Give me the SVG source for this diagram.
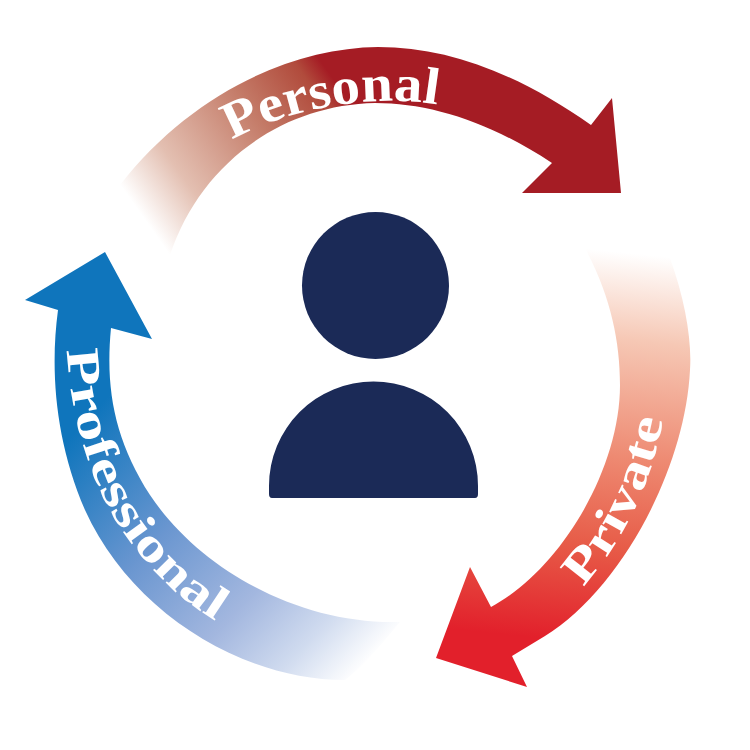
<svg xmlns="http://www.w3.org/2000/svg" width="750" height="750" viewBox="0 0 750 750">
<style>
.label{font-family:"Liberation Serif","DejaVu Serif",serif;font-weight:700;fill:#fff}
.ink{fill:#1b2a57}
</style>
<defs>
<linearGradient id="gTop" gradientUnits="userSpaceOnUse" x1="145" y1="220" x2="343" y2="80">
<stop offset="0" stop-color="#fff"/><stop offset="0.23" stop-color="#e3bfb1"/><stop offset="0.62" stop-color="#c47b68"/><stop offset="0.88" stop-color="#b14b3c"/><stop offset="0.97" stop-color="#a51c24"/>
</linearGradient>
<linearGradient id="gRight" gradientUnits="userSpaceOnUse" x1="600" y1="250" x2="560" y2="640">
<stop offset="0" stop-color="#fff"/><stop offset="0.22" stop-color="#f6c8b5"/><stop offset="0.52" stop-color="#ee8a72"/><stop offset="0.75" stop-color="#e75c48"/><stop offset="1" stop-color="#e2202b"/>
</linearGradient>
<linearGradient id="gLeft" gradientUnits="userSpaceOnUse" x1="105" y1="400" x2="375" y2="655">
<stop offset="0" stop-color="#0f75bc"/><stop offset="0.36" stop-color="#6a96d0"/><stop offset="0.65" stop-color="#a3b7df"/><stop offset="0.845" stop-color="#d0dbef"/><stop offset="1" stop-color="#fff"/>
</linearGradient>
<path id="pTop" d="M232,140 C285,110 370,92 440,105"/>
<path id="pRight" d="M583,587 C620,545 650,490 663,420"/>
<path id="pLeft" d="M67,350 C70,420 95,510 150,565 C170,590 195,608 222,625"/>
</defs>
<g id="connectors">
<g id="arrow-personal">
<path fill="url(#gTop)" d="M120,185 C190,95 290,48 378,47 C450,47 520,75 591,125 L612,98 L621,193 L522,193 L552,163 C490,122 430,103 375,103 C280,105 200,165 170,255 Z"/>
<text class="label" font-size="52"><textPath href="#pTop" textLength="212" lengthAdjust="spacingAndGlyphs">Personal</textPath></text>
</g>
<g id="arrow-private">
<path fill="url(#gRight)" d="M670,258 C685,300 692,340 690,370 C685,470 620,590 545,636 L512,656 L527,687 L436,658 L470,567 L491,607 C560,570 620,470 620,385 C620,340 610,295 585,248 C610,240 650,245 670,258 Z"/>
<text class="label" font-size="47"><textPath href="#pRight" textLength="188" lengthAdjust="spacingAndGlyphs">Private</textPath></text>
</g>
<g id="arrow-professional">
<path fill="url(#gLeft)" d="M58,310 C50,370 55,440 85,510 C130,610 240,680 345,680 C365,665 385,640 400,622 C300,625 200,570 150,495 C115,440 105,390 111,328 L152,339 L105,252 L25,300 Z"/>
<text class="label" font-size="47"><textPath href="#pLeft" textLength="322" lengthAdjust="spacingAndGlyphs">Professional</textPath></text>
</g>
</g>
<g id="person">
<circle class="ink" cx="375.500" cy="285.500" r="73.500"/>
<path class="ink" d="M272,498 Q269,498 269,494 V486 A104.500,104.500 0 0 1 478,486 V494 Q478,498 475,498 Z"/>
</g>
</svg>
